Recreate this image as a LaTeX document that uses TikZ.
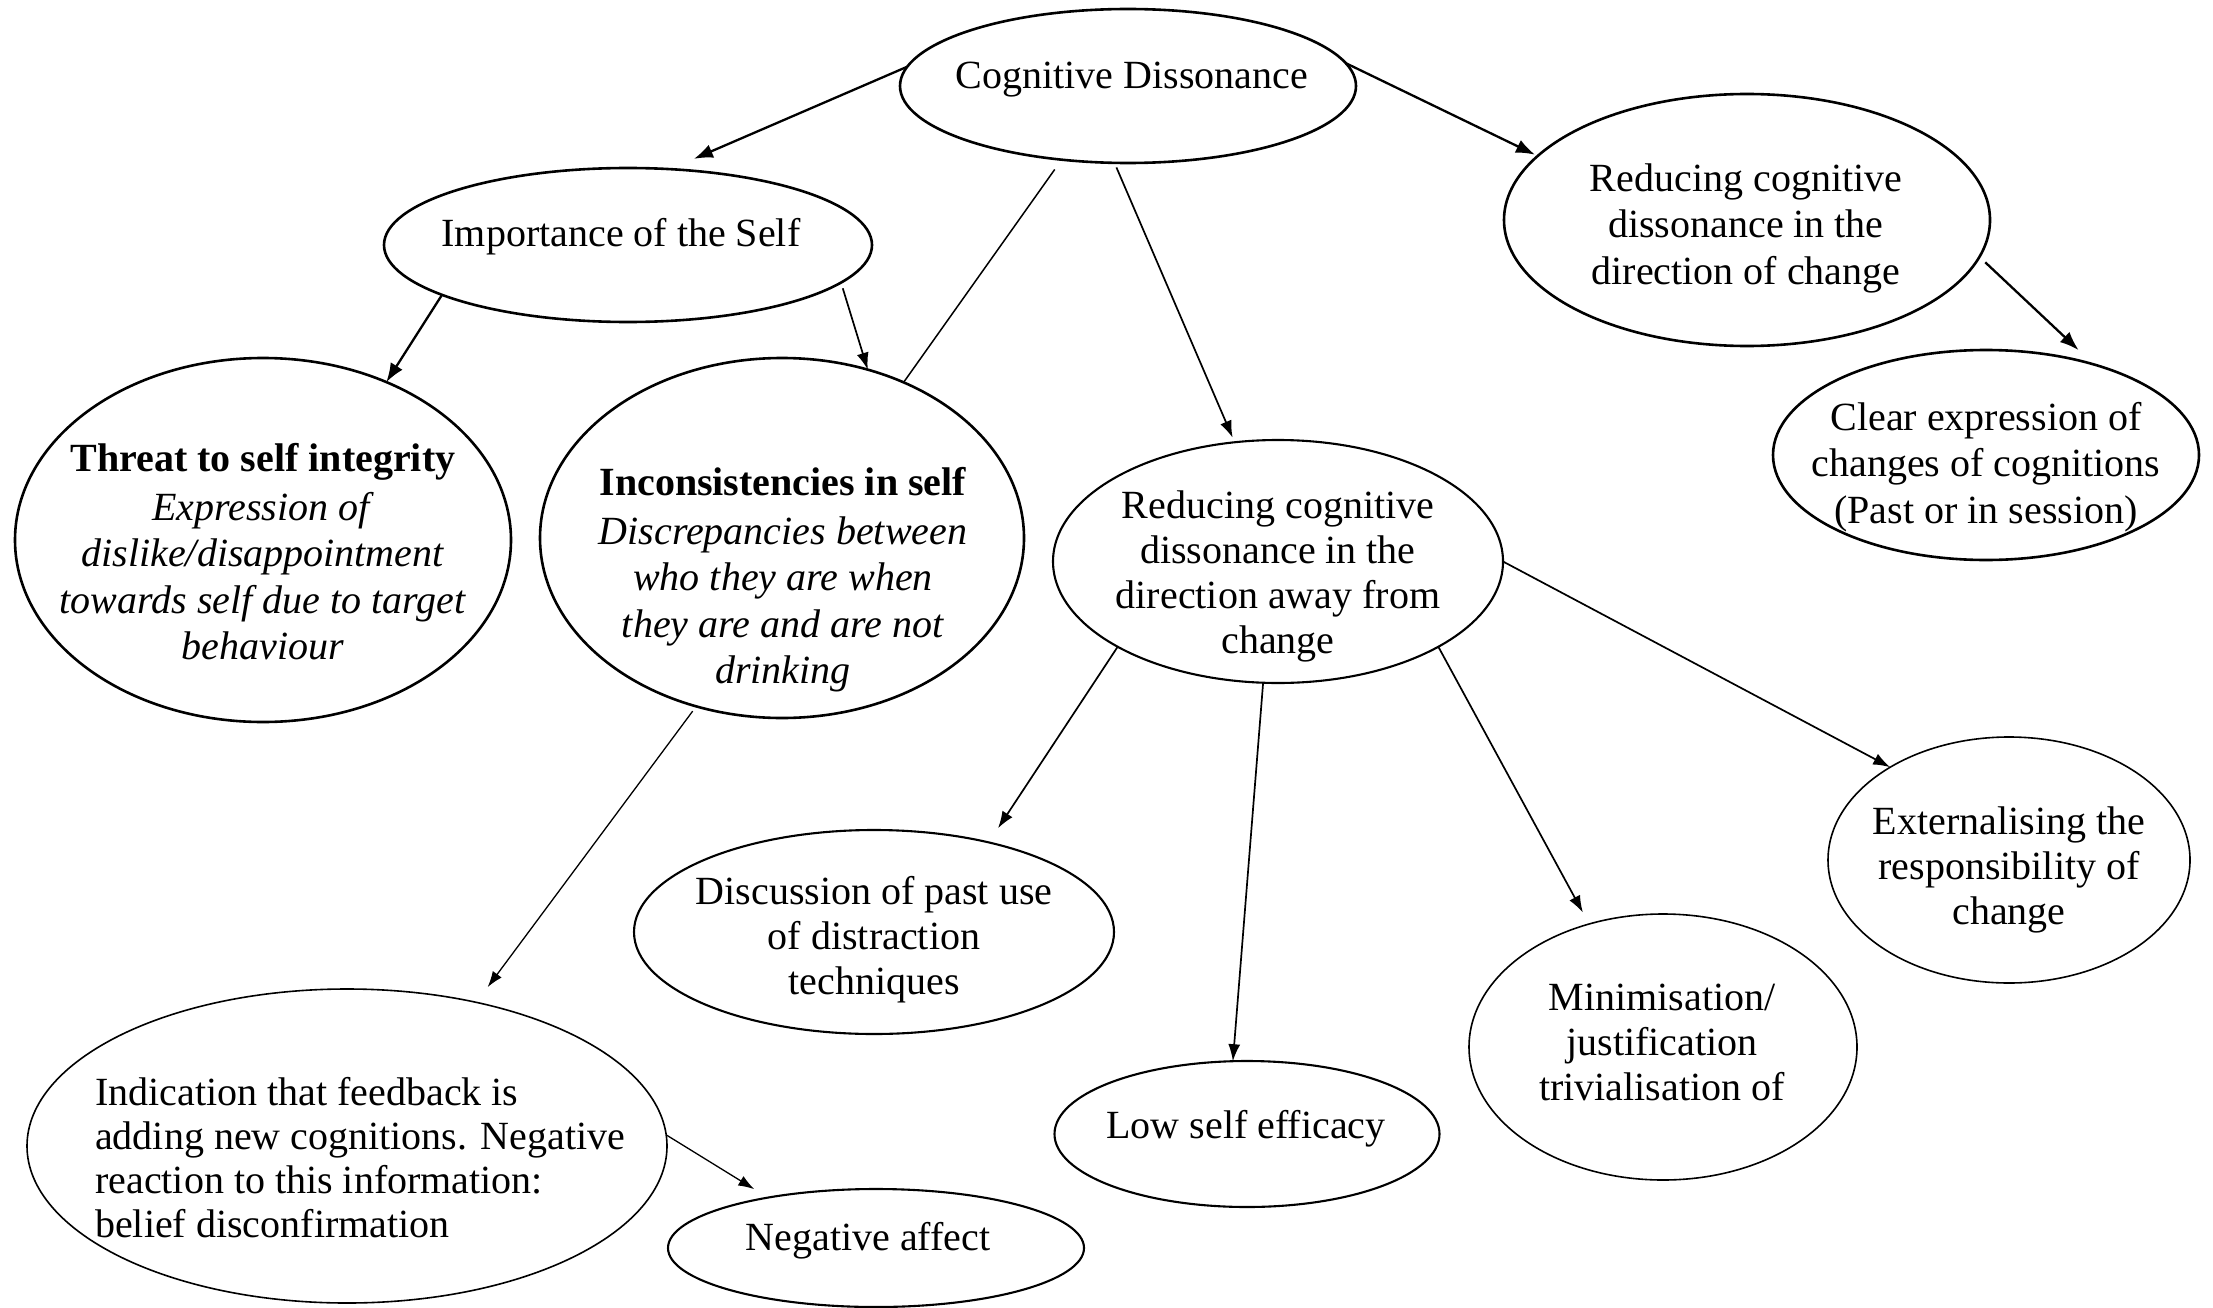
\documentclass[tikz,border=0pt]{standalone}
\usepackage{fontspec}
\setmainfont{Liberation Serif}
\usetikzlibrary{shapes.geometric,arrows.meta}
\begin{document}
\begin{tikzpicture}[x=1pt,y=-1pt,
  ell/.style={draw=black, ellipse, inner sep=0pt, outer sep=0pt},
  ethick/.style={ell, line width=2.6pt},
  emid/.style={ell, line width=2.1pt},
  ethin/.style={ell, line width=1.6pt},
  txt/.style={inner sep=0pt, align=center, font=\fontsize{40}{45}\selectfont},
  txtw/.style={inner sep=0pt, align=center, font=\fontsize{40}{46.5}\selectfont},
  arr/.style={-{Latex[length=19pt,width=14pt]}, line width=2.3pt},
  arrm/.style={-{Latex[length=17pt,width=12pt]}, line width=1.7pt},
  arrt/.style={-{Latex[length=16pt,width=11pt]}, line width=1.3pt},
  plain/.style={line width=1.5pt}
  ]
\useasboundingbox (0,0) rectangle (2213,1308);
\fill[white] (0,0) rectangle (2213,1308);

% ellipses
\node[ethick, minimum width=456pt, minimum height=154pt] (cd) at (1128,86) {};
\node[ethick, minimum width=488pt, minimum height=154pt] (imp) at (628,245) {};
\node[ethick, minimum width=496pt, minimum height=364pt] (threat) at (263,540) {};
\node[ethick, minimum width=484pt, minimum height=360pt] (incons) at (782,538) {};
\node[emid, minimum width=450pt, minimum height=243pt] (away) at (1278,561.5) {};
\node[ethick, minimum width=486pt, minimum height=252pt] (rc) at (1747,220) {};
\node[ethick, minimum width=426pt, minimum height=210pt] (clear) at (1986,455) {};
\node[emid, minimum width=480pt, minimum height=204pt] (disc) at (874,932) {};
\node[emid, minimum width=385pt, minimum height=146pt] (low) at (1247,1134) {};
\node[ethin, minimum width=388pt, minimum height=266pt] (min) at (1663,1047) {};
\node[ethin, minimum width=362pt, minimum height=246pt] (ext) at (2009,860) {};
\node[ethin, minimum width=640pt, minimum height=314pt] (ind) at (347,1146) {};
\node[emid, minimum width=416pt, minimum height=118pt] (neg) at (876,1248) {};

% texts
\node[txt] (cdT) at (1132,80) {Cognitive Dissonance};
\node[txt] (impT) at (621,237) {Importance of the Self};
\node[txtw] (threatT) at (263,552) {\textbf{Threat to self integrity}\\[2pt]
  \textit{Expression of}\\ \textit{dislike/disappointment}\\
  \textit{towards self due to target}\\ \textit{behaviour}};
\node[txtw] (inconsT) at (783,580) {\textbf{Inconsistencies in self}\\[2pt]
  \textit{Discrepancies between}\\ \textit{who they are when}\\
  \textit{they are and are not}\\ \textit{drinking}};
\node[txt] (awayT) at (1278,576) {Reducing cognitive\\ dissonance in the\\ direction away from\\ change};
\node[txtw] (rcT) at (1746,228) {Reducing cognitive\\ dissonance in the\\ direction of change};
\node[txtw] (clearT) at (1986,467) {Clear expression of\\ changes of cognitions\\ (Past or in session)};
\node[txt] (discT) at (874,940) {Discussion of past use\\ of distraction\\ techniques};
\node[txt] (lowT) at (1246,1129) {Low self efficacy};
\node[txt] (minT) at (1662,1042) {Minimisation/\\ justification\\ trivialisation of};
\node[txt] (extT) at (2009,870) {Externalising the\\ responsibility of\\ change};
\node[inner sep=0pt, align=left, anchor=west, font=\fontsize{40}{44}\selectfont] (indT) at (95,1158) {Indication that feedback is\\ adding new cognitions. Negative\\ reaction to this information:\\ belief disconfirmation};
\node[txt] (negT) at (868,1241) {Negative affect};

% connectors
\draw[arr] (cd.175) -- (imp.61) [shorten >=26pt];
\draw[arr] (cd.6) -- (rc.163) [shorten >=3pt];
\draw[plain] (cd.228) -- (incons.52) [shorten <=12pt];
\draw[arrm] (cd.260) -- (away.110) [shorten <=5pt, shorten >=5pt];
\draw[arr] (imp.195) -- (threat.52);
\draw[arrm] (imp.350) -- (incons.63) [shorten <=6pt];
\draw[arr] (rc.351) -- (clear.40) [shorten <=8pt, shorten >=21pt];
\draw[arrt] (incons.243) -- (ind.48) [shorten <=6pt, shorten >=19pt];
\draw[arrt] (ind.2) -- (neg.155) [shorten >=16pt];
\draw[arrm] (away.208) -- (disc.38) [shorten >=17pt];
\draw[arrm] (away.263) -- (low.101);
\draw[arrm] (away.332) -- (min.121) [shorten >=13pt];
\draw[arrm] (away.0) -- (ext.142);
\end{tikzpicture}
\end{document}
